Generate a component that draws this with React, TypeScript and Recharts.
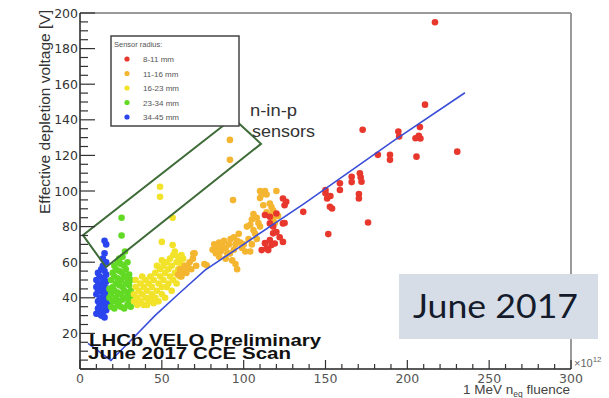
import { ScatterChart, Scatter, XAxis, YAxis, ReferenceLine } from "recharts";

// sensor radius groups, in legend order
const sensorRadii = ["8-11 mm", "11-16 mm", "16-23 mm", "23-34 mm", "34-45 mm"];
const radiusColors = ["#e8372c", "#f4b530", "#f2e32a", "#62da24", "#2a44ee"];

// fluence [1e12 1MeV neq/cm2], effective depletion voltage [V]
const red8to11: [number, number][] = [
  [111, 66.8], [113, 70.7], [114, 67.7], [115, 66.8], [116, 72.4], [117, 69.6], [118, 76.2],
  [119, 70.5], [120, 77], [116, 81.8], [113, 86.5], [116, 85.5], [120, 87.4], [124, 81.8],
  [124, 71.4], [124, 95.8], [125, 92], [126, 94], [125, 82], [122, 74], [118, 80],
  [136.4, 88.3], [150, 98.7], [151, 95.8], [152.7, 91.1], [153, 97.2], [150, 100.6],
  [154, 90.2], [151.7, 75.8], [158.8, 104.3], [158.8, 100.6], [166, 108], [166, 105],
  [170.4, 98.3], [170.4, 95.8], [171, 110], [171.5, 107.7], [172, 105.2], [176, 82.3],
  [172.7, 134.4], [182, 120.3], [189.4, 120.3], [189.4, 117.5], [194.5, 133.4], [195, 130.6],
  [205.6, 119.3], [205, 129.6], [207, 131], [208, 129.5], [207.7, 135.9], [210.8, 148.5],
  [216.9, 194.8], [230.5, 122.1],
];

const orange11to16: [number, number][] = [
  [60, 53], [61, 56], [62, 52], [63, 55], [64, 58], [65, 54], [66, 57], [67, 60], [68, 56],
  [69, 62], [70, 65], [71, 58], [76, 59], [77.4, 58.3], [69.2, 64.9],
  [81, 67], [82, 70], [83, 65], [84, 68], [85, 63], [85, 71], [86, 66], [87, 69], [88, 72],
  [89, 62], [89, 68], [90, 65], [91, 70], [91.6, 64.9], [92, 73], [93, 61], [94, 67], [94, 74],
  [95, 59], [95, 70], [96, 56], [96, 72], [97, 76], [98, 71], [99, 68], [100, 70], [101, 66],
  [102, 80], [103, 73], [104, 66], [104, 81], [105, 70],
  [105, 84], [106, 78], [106, 87], [107, 76], [108, 85], [108, 73], [109, 82], [110, 80],
  [110, 96], [110, 100], [111, 98], [113, 100], [114, 98], [116, 93], [117, 91], [117, 86],
  [118, 89], [118, 84], [119, 87], [119, 82], [120, 100], [121, 86], [112, 92], [114, 88],
  [91.6, 128.7], [91.6, 117.5], [93.5, 94.9],
];

const yellow16to23: [number, number][] = [
  [33, 38], [33, 42], [34, 46], [35, 40], [35, 36], [36, 44], [37, 38], [37, 48], [38, 42],
  [39, 36], [39, 46], [40, 40], [40, 50], [41, 44], [42, 38], [42, 48], [43, 52], [44, 42],
  [44, 46], [45, 37], [45, 50], [46, 54], [46, 40], [47, 44], [48, 48], [48, 38], [49, 52],
  [49, 56], [50, 42], [50, 46], [51, 58], [51, 50], [52, 40], [52, 54], [53, 60], [53, 46],
  [54, 48], [54, 56], [55, 62], [55, 52], [56, 44], [56, 58], [57, 64], [57, 50], [58, 54],
  [58, 66], [59, 60], [59, 48], [60, 56], [60, 63], [61, 52], [61, 60], [62, 58], [62, 64],
  [34, 50], [36, 37], [38, 52], [41, 36], [43, 40], [47, 58], [50, 61], [63, 62], [64, 58],
  [50, 71.4], [56.6, 69.6], [56.6, 85], [48.9, 102.4], [48.9, 96.8],
];

const green23to34: [number, number][] = [
  [19, 35], [21, 34], [23, 36], [25, 35], [27, 34], [29, 36], [31, 35], [20, 38], [22, 40],
  [24, 38], [26, 39], [28, 40], [30, 38], [19, 42], [21, 44], [23, 43], [25, 42], [27, 44],
  [29, 43], [31, 41], [20, 46], [22, 48], [24, 47], [26, 46], [28, 48], [30, 47], [19, 50],
  [21, 52], [23, 51], [25, 50], [27, 52], [29, 51], [20, 54], [22, 56], [24, 55], [26, 54],
  [28, 56], [30, 53], [21, 58], [23, 60], [25, 59], [27, 58], [29, 60], [24, 62], [26, 63],
  [18, 40], [18, 45], [31, 44], [31, 50], [27.5, 66], [25.4, 75], [25.4, 85],
];

const blue34to45: [number, number][] = [
  [10, 31], [11, 34], [12, 36], [13, 30], [14, 32], [15, 29], [16, 33], [11, 38], [13, 40],
  [15, 37], [17, 36], [10, 42], [12, 44], [14, 43], [16, 41], [11, 47], [13, 48], [15, 46],
  [17, 45], [10, 50], [12, 52], [14, 51], [16, 49], [11, 54], [13, 56], [15, 55], [14, 58],
  [16, 53], [12, 39], [14, 35], [16, 38], [13, 45], [15, 50], [17, 42], [11, 44], [12, 48],
  [15, 42], [14, 47], [16, 45], [10, 46], [13, 33], [12, 31], [15, 33],
  [14, 62], [16, 60], [15, 65], [16, 70], [15, 72],
];

// model curve drawn through the data
const fitCurve: [number, number][] = [
  [4.9, 14.4], [18.9, 4.8], [30, 15], [45.8, 30], [60, 42], [76.4, 55.5], [94.7, 66.8],
  [137.4, 93.2], [192.4, 128.7], [235.2, 155.2],
];

// "n-in-p sensors" outline
const ninpBox: [number, number][] = [
  [93.5, 141], [110.6, 126.5], [15.9, 57.2], [1.8, 75.2], [93.5, 141],
];

const xTicks = Array.from({ length: 31 }, (_, i) => i * 10);
const yTicks = Array.from({ length: 41 }, (_, i) => i * 5);

const groups = [red8to11, orange11to16, yellow16to23, green23to34, blue34to45];

const toPoints = (pairs: [number, number][]) => pairs.map(([x, y]) => ({ x, y }));

const XTick = (props: any) => {
  const { x, y, payload } = props;
  const v = payload.value;
  const major = v % 50 === 0;
  return (
    <g>
      <line x1={x} y1={y} x2={x} y2={y - (major ? 9 : 5)} stroke="#333" strokeWidth={1.2} />
      {major && (
        <text x={x} y={y + 13.5} textAnchor="middle" fontSize={12.5} fill="#555" fontFamily="DejaVu Sans">
          {v}
        </text>
      )}
    </g>
  );
};

const YTick = (props: any) => {
  const { x, y, payload } = props;
  const v = payload.value;
  const major = v % 20 === 0;
  return (
    <g>
      <line x1={x} y1={y} x2={x + (major ? 15 : 8)} y2={y} stroke="#333" strokeWidth={1.2} />
      {major && v > 0 && (
        <text x={x - 2} y={y + 4.5} textAnchor="end" fontSize={12.5} fill="#333" fontFamily="DejaVu Sans">
          {v}
        </text>
      )}
    </g>
  );
};

const dot = (color: string) => (props: any) =>
  <circle cx={props.cx} cy={props.cy} r={3.3} fill={color} />;

const noDot = () => <g />;

export default function App() {
  const drawOrder = [4, 3, 2, 1, 0];
  return (
    <div style={{ position: "absolute", left: 0, top: 0, width: 609, height: 398, background: "#fff" }}>
      <ScatterChart width={609} height={398} margin={{ top: 13, right: 38, bottom: 9, left: 40 }}>
        <XAxis
          type="number"
          dataKey="x"
          domain={[0, 300]}
          ticks={xTicks}
          interval={0}
          height={20}
          tickSize={0}
          tickMargin={0}
          tickLine={false}
          tick={<XTick />}
          axisLine={{ stroke: "#222", strokeWidth: 1.5 }}
        />
        <YAxis
          type="number"
          dataKey="y"
          domain={[0, 200]}
          ticks={yTicks}
          interval={0}
          width={40}
          tickSize={0}
          tickMargin={0}
          tickLine={false}
          tick={<YTick />}
          axisLine={{ stroke: "#222", strokeWidth: 1.5 }}
        />
        <ReferenceLine y={200} stroke="#9a9a9a" strokeWidth={2} />
        <ReferenceLine x={300} stroke="#9a9a9a" strokeWidth={2} />
        {drawOrder.map((i) => (
          <Scatter
            key={sensorRadii[i]}
            name={sensorRadii[i]}
            data={toPoints(groups[i])}
            fill={radiusColors[i]}
            shape={dot(radiusColors[i])}
            isAnimationActive={false}
          />
        ))}
        <Scatter
          data={toPoints(fitCurve)}
          line={{ stroke: "#3a4ed8", strokeWidth: 1.6 }}
          shape={noDot}
          isAnimationActive={false}
        />
        <Scatter
          data={toPoints(ninpBox)}
          line={{ stroke: "#3e6b38", strokeWidth: 2 }}
          shape={noDot}
          isAnimationActive={false}
        />
      </ScatterChart>
      <svg
        width={609}
        height={398}
        style={{ position: "absolute", left: 0, top: 0, pointerEvents: "none" }}
        fontFamily="Liberation Sans, Arial, sans-serif"
      >
        <text
          transform="translate(50,112) rotate(-90)"
          textAnchor="middle"
          fontSize={14}
          fill="#333"
          textLength={204}
          lengthAdjust="spacingAndGlyphs"
        >
          Effective depletion voltage [V]
        </text>

        <rect x={111} y={36} width={128} height={90} fill="#fff" stroke="#444" strokeWidth={1.5} />
        <text x={114} y={47} fontSize={7.5} fill="#555">Sensor radius:</text>
        {sensorRadii.map((label, i) => (
          <g key={label}>
            <circle cx={127} cy={59 + i * 14.5} r={2.6} fill={radiusColors[i]} />
            <text x={143} y={62 + i * 14.5} fontSize={8} fill="#555">{label}</text>
          </g>
        ))}

        <text x={250} y={116} fontSize={16} fill="#333" textLength={47} lengthAdjust="spacingAndGlyphs">n-in-p</text>
        <text x={252} y={137} fontSize={16} fill="#333" textLength={63} lengthAdjust="spacingAndGlyphs">sensors</text>

        <text x={89} y={346} fontSize={17} fontWeight="bold" fill="#111" textLength={232} lengthAdjust="spacingAndGlyphs">
          LHCb VELO Preliminary
        </text>
        <text x={88} y={359} fontSize={17} fontWeight="bold" fill="#111" textLength={203} lengthAdjust="spacingAndGlyphs">
          June 2017 CCE Scan
        </text>

        <text x={574} y={367} fontSize={11} fill="#666">
          ×10<tspan dy={-5} fontSize={8}>12</tspan>
        </text>
        <text x={570} y={394} textAnchor="end" fontSize={13.5} fill="#444">
          1 MeV n<tspan dy={3} fontSize={8.5}>eq</tspan><tspan dy={-3}> fluence</tspan>
        </text>

        <rect x={399} y={274} width={199} height={65} fill="#d6dde7" />
        <text
          x={413}
          y={318}
          fontSize={32}
          fill="#141b2b"
          fontFamily="Lato, Open Sans, sans-serif"
          textLength={165}
          lengthAdjust="spacingAndGlyphs"
        >
          June 2017
        </text>
      </svg>
    </div>
  );
}
